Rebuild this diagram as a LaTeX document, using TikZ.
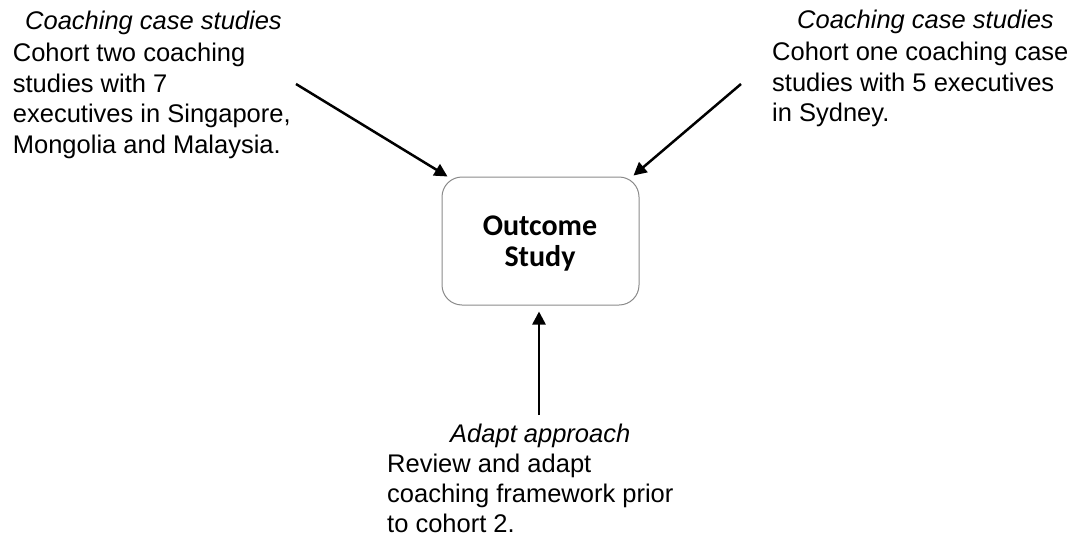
\documentclass[tikz,border=0pt]{standalone}
\usepackage{fontspec}
\setmainfont{Liberation Sans}
\newfontfamily\boxfont{Carlito}
\usetikzlibrary{arrows.meta,calc}
\definecolor{boxgray}{HTML}{8A8A8A}
\begin{document}
\begin{tikzpicture}[x=1pt,y=-1pt,
  txt/.style={anchor=base west, inner sep=0pt, font=\fontsize{25.5}{30}\selectfont},
  ttl/.style={anchor=base west, inner sep=0pt, font=\fontsize{25.5}{30}\selectfont\itshape},
  lbl/.style={anchor=base, inner sep=0pt, font=\boxfont\bfseries\fontsize{30}{36}\selectfont},
  arr/.style={line width=2.5pt, -{Triangle[length=13pt,width=13pt]}},
  boxst/.style={draw=boxgray, line width=1pt, rounded corners=20pt,
    minimum width=197pt, minimum height=128pt, inner sep=0pt}]
\useasboundingbox (0,0) rectangle (1075,538);

% central box
\node[boxst] (box) at (540.5,241) {};
\node[lbl] (out) at (540,235) {Outcome};
\node[lbl] (stu) at (540,266) {Study};

% left text block
\node[ttl] (lt) at (25,29) {Coaching case studies};
\node[txt] (l1) at (12.7,61) {Cohort two coaching};
\node[txt] (l2) at (12.7,92) {studies with 7};
\node[txt] (l3) at (12.7,122.5) {executives in Singapore,};
\node[txt] (l4) at (12.7,153) {Mongolia and Malaysia.};

% right text block
\node[ttl] (rt) at (797,28) {Coaching case studies};
\node[txt] (r1) at (772,60) {Cohort one coaching case};
\node[txt] (r2) at (772,91) {studies with 5 executives};
\node[txt] (r3) at (772,121) {in Sydney.};

% bottom text block
\node[ttl] (bt) at (450,442) {Adapt approach};
\node[txt] (b1) at (387,472) {Review and adapt};
\node[txt] (b2) at (387,502) {coaching framework prior};
\node[txt] (b3) at (387,532) {to cohort 2.};

% arrows into the box
\coordinate (ls) at (296,84);
\coordinate (rs) at (741,84);
\coordinate (bs) at (539,415);
\draw[arr] (ls) -- ($(box.north west)+(6,0)$);
\draw[arr] (rs) -- ($(box.north east)+(-6,-1)$);
\draw[arr] (bs) -- ($(box.south)+(-1.5,6)$);
\end{tikzpicture}
\end{document}
